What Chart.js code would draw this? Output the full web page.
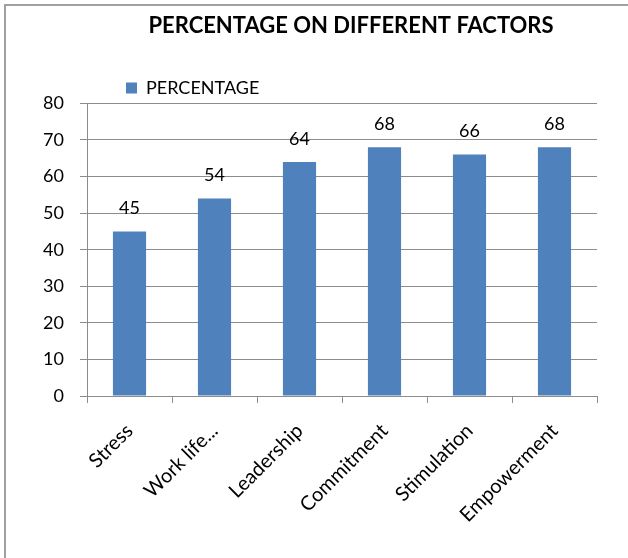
<!DOCTYPE html>
<html>
<head>
<meta charset="utf-8">
<script src="https://cdn.jsdelivr.net/npm/chart.js@4.4.1/dist/chart.umd.min.js"></script>
<style>
  html, body { margin: 0; padding: 0; background: #fff; }
  body { width: 628px; height: 558px; position: relative; overflow: hidden; }
  .frame {
    position: absolute; left: 4px; top: 4px; width: 700px; height: 600px;
    border-left: 2px solid #a0a0a0; border-top: 2px solid #a0a0a0;
  }
  canvas { position: absolute; left: 0; top: 0; }
</style>
</head>
<body>
<div class="frame"></div>
<canvas id="chart" width="628" height="558"></canvas>
<script>
// Datos del gráfico
const categories = ["Stress", "Work life...", "Leadership", "Commitment", "Stimulation", "Empowerment"];
const percentages = [45, 54, 64, 68, 66, 68];
const seriesName = "PERCENTAGE";
const yTicks = [0, 10, 20, 30, 40, 50, 60, 70, 80];

const FONT = "Lato";
const GRID = "#8c8c8c";

// Etiquetas de valor encima de cada barra
const valueLabels = {
  id: "valueLabels",
  afterDatasetsDraw(chart) {
    const ctx = chart.ctx;
    const meta = chart.getDatasetMeta(0);
    ctx.save();
    ctx.font = `18px ${FONT}`;
    ctx.fillStyle = "#000";
    ctx.textAlign = "center";
    ctx.textBaseline = "middle";
    meta.data.forEach((bar, i) => {
      ctx.fillText(String(percentages[i]), bar.x, bar.y - 23);
    });
    ctx.restore();
  },
};

// Recolocar título y leyenda como en el original
const placeBoxes = {
  id: "placeBoxes",
  afterLayout(chart) {
    const t = chart.titleBlock;
    if (t) { t.left = 0; t.right = 702; }
    const l = chart.legend;
    if (l) {
      const h = l.bottom - l.top;
      l.left = 116;
      l.top = 69;
      l.bottom = 69 + h;
    }
  },
};

new Chart(document.getElementById("chart"), {
  type: "bar",
  data: {
    labels: categories,
    datasets: [
      {
        label: seriesName,
        data: percentages,
        backgroundColor: "#4f81bd",
        borderWidth: 0,
        barPercentage: 0.39,
        categoryPercentage: 1,
      },
    ],
  },
  plugins: [valueLabels, placeBoxes],
  options: {
    responsive: false,
    animation: false,
    layout: { padding: { left: 0, right: 31, top: 0, bottom: 0 } },
    plugins: {
      tooltip: { enabled: false },
      title: {
        display: true,
        text: "PERCENTAGE ON DIFFERENT FACTORS",
        color: "#000",
        font: { family: FONT, size: 22, weight: "bold" },
        padding: { top: 13, bottom: 26 },
      },
      legend: {
        display: true,
        align: "start",
        labels: {
          color: "#000",
          font: { family: FONT, size: 18 },
          boxWidth: 11,
          boxHeight: 11,
          padding: 10,
        },
      },
    },
    scales: {
      x: {
        offset: true,
        grid: {
          offset: true,
          drawOnChartArea: false,
          drawTicks: true,
          tickLength: 7,
          tickColor: GRID,
        },
        border: { display: true, color: GRID, width: 1 },
        ticks: {
          color: "#000",
          font: { family: FONT, size: 20 },
          minRotation: 45,
          maxRotation: 45,
          padding: 16,
          autoSkip: false,
        },
        afterFit(s) { s.height = 162; },
      },
      y: {
        min: 0,
        max: 80,
        afterBuildTicks(s) { s.ticks = yTicks.map(v => ({ value: v })); },
        grid: { color: GRID, tickLength: 7, tickColor: GRID },
        border: { display: true, color: GRID, width: 1 },
        ticks: {
          color: "#000",
          font: { family: FONT, size: 18 },
          padding: 16,
        },
        afterFit(s) { s.width = 87; },
      },
    },
  },
});
</script>
</body>
</html>
